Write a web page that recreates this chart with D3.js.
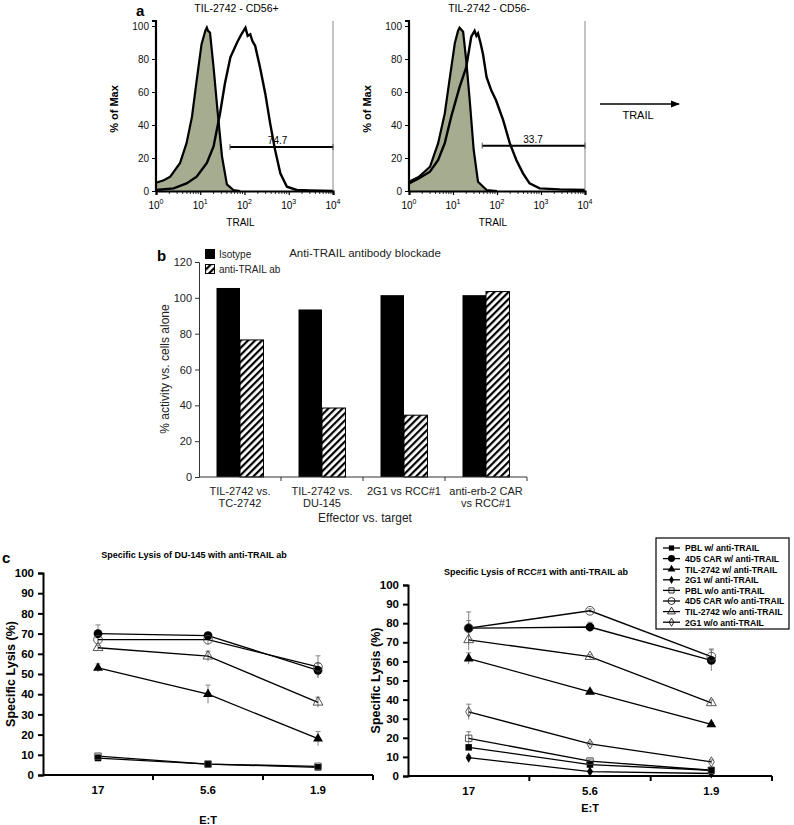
<!DOCTYPE html>
<html>
<head>
<meta charset="utf-8">
<script src="https://cdn.jsdelivr.net/npm/d3@7"></script>
<style>
  body { margin: 0; background: #fff; }
  svg { font-family: Arial, "Liberation Sans", sans-serif; }
</style>
</head>
<body>
<div id="fig"></div>
<script>
// ---- panel a: TRAIL histograms (intensity, % of max)
var isoPos = [[1,5],[1.5,6.5],[2.1,8.7],[3.5,17],[4.9,29],[6.5,45],[8.3,67],[10.7,89],[13,97],[14.1,99],[15,97],[16.6,96],[20,75],[24.5,49],[31,21],[40,4],[56,0.6],[80,0]];
var trailPos = [[1,0.6],[2.5,1.6],[4.9,4.6],[8.3,8.7],[14.1,17],[20,27],[28,47],[36,65],[48,81],[68,90],[85,95],[105,99],[118,94],[135,95],[150,91],[174,88],[224,75],[295,59],[380,41],[490,25],[645,10.7],[910,2.6],[1510,0.6],[3000,0.3],[10000,0]];
var isoNeg = [[1,5.6],[1.7,8.7],[3,14.7],[4.6,29],[6.5,47],[8.3,67],[11,89.5],[13,97],[14.1,99],[17,96.5],[20,79],[24,55],[29.5,25],[37,5.6],[58,0.6],[100,0]];
var trailNeg = [[1,4.6],[1.7,7.7],[3,11.7],[4.6,18.8],[6.5,29],[9.1,45],[14.1,63],[20,75],[26,93.5],[31,97],[34,94],[37,95.5],[42,90],[48,83],[58,69],[74,61],[95,55],[138,43],[195,29],[275,18.8],[390,10.7],[550,4.6],[930,1.6],[2630,1],[10000,0.6]];
var histTitles = ["TIL-2742 - CD56+", "TIL-2742 - CD56-"];
var gatePct = ["74.7", "33.7"];
var gateFrom = [47, 46];
var gateY = [26.7, 27.5];

// ---- panel b: antibody blockade
var bCats = [["TIL-2742 vs.", "TC-2742"], ["TIL-2742 vs.", "DU-145"], ["2G1 vs RCC#1", ""], ["anti-erb-2 CAR", "vs RCC#1"]];
var isotype = [105.5, 93.5, 101.5, 101.5];
var antiTrail = [76.5, 38.5, 34.5, 103.5];

// ---- panel c: specific lysis
var etRatios = ["17", "5.6", "1.9"];
var seriesNames = ["PBL w/ anti-TRAIL", "4D5 CAR w/ anti-TRAIL", "TIL-2742 w/ anti-TRAIL", "2G1 w/ anti-TRAIL",
  "PBL w/o anti-TRAIL", "4D5 CAR w/o anti-TRAIL", "TIL-2742 w/o anti-TRAIL", "2G1 w/o anti-TRAIL"];
var seriesShape = ["square", "circle", "triangle", "diamond", "square", "circle", "triangle", "diamond"];
var seriesFilled = [true, true, true, true, false, false, false, false];
var du145 = [[8.4,5.4,3.8], [70,69,51.8], [53,40,18], null, [9.3,5.4,4.3], [67,67,53.5], [63,58.8,36], null];
var du145Err = [[1.5,0.5,0.5], [4.3,1,3.5], [2,4.5,3.5], null, [1,0.5,0.8], [1,2.5,5.5], [1,2.5,2.5], null];
var rcc1 = [[15,6,3], [77.4,78,60.5], [61.5,44,27], [9.6,2.3,1.3], [19.7,7.8,3], [77.4,86.5,62.5], [71.3,62.5,38.3], [33.6,16.8,7.4]];
var rcc1Err = [[1,1,0.5], [4,2.5,5.5], [3,1,1], [1,0.5,0.5], [3.5,1,0.5], [8.5,1,4], [5.5,1,1.5], [4,1,1]];

var svg = d3.select("#fig").append("svg").attr("width", 794).attr("height", 825);
svg.append("rect").attr("width", 794).attr("height", 825).attr("fill", "#fff");

var defs = svg.append("defs");
var pat = defs.append("pattern").attr("id", "hatch").attr("patternUnits", "userSpaceOnUse")
  .attr("width", 5).attr("height", 5).attr("patternTransform", "rotate(45)");
pat.append("rect").attr("width", 5).attr("height", 5).attr("fill", "#fff");
pat.append("rect").attr("width", 2.2).attr("height", 5).attr("fill", "#000");

// ================= panel a
svg.append("text").attr("x", 136).attr("y", 16).attr("font-weight", "bold").attr("font-size", 15).text("a");

function histogram(left, right, iso, trail, idx){
  var x = d3.scaleLog().domain([1, 10000]).range([left, right]);
  var y = d3.scaleLinear().domain([0, 100]).range([191, 26]);
  var g = svg.append("g");
  var area = d3.area().x(function(d){ return x(d[0]); }).y0(y(0)).y1(function(d){ return y(d[1]); });
  var line = d3.line().x(function(d){ return x(d[0]); }).y(function(d){ return y(d[1]); });
  g.append("path").datum(iso).attr("d", area).attr("fill", "#a5ac8f");
  g.append("path").datum(iso).attr("d", line).attr("fill", "none").attr("stroke", "#000").attr("stroke-width", 2.2);
  g.append("path").datum(trail).attr("d", line).attr("fill", "none").attr("stroke", "#000").attr("stroke-width", 2.4);
  // frame
  g.append("line").attr("x1", right).attr("x2", right).attr("y1", 21).attr("y2", 191).attr("stroke", "#888").attr("stroke-width", 1);
  var ya = g.append("g").attr("transform", "translate(" + left + ",0)")
    .call(d3.axisLeft(y).tickValues([0,20,40,60,80,100]).tickSize(4));
  ya.select(".domain").attr("d", "M-4,21H0V191").attr("stroke-width", 2.2);
  ya.selectAll("text").attr("font-size", 10).attr("fill", "#111");
  var xa = g.append("g").attr("transform", "translate(0,191)")
    .call(d3.axisBottom(x).tickValues([1,10,100,1000,10000]).tickSize(4).tickFormat(""));
  xa.select(".domain").attr("stroke-width", 2.2);
  xa.selectAll(".tick line").attr("stroke-width", 1.2);
  g.selectAll(".minor").data(x.ticks().filter(function(v){ return [1,10,100,1000,10000].indexOf(v) < 0; }))
    .enter().append("line").attr("x1", function(d){ return x(d); }).attr("x2", function(d){ return x(d); })
    .attr("y1", 191).attr("y2", 194).attr("stroke", "#000").attr("stroke-width", 0.8);
  [0,1,2,3,4].forEach(function(e){
    var t = g.append("text").attr("x", x(Math.pow(10, e))).attr("y", 209).attr("text-anchor", "middle").attr("font-size", 10);
    t.append("tspan").text("10");
    t.append("tspan").attr("font-size", 7).attr("dy", -5).text(e);
  });
  g.append("text").attr("x", (left + right) / 2 - 4).attr("y", 226).attr("text-anchor", "middle").attr("font-size", 10).text("TRAIL");
  g.append("text").attr("x", (left + right) / 2 - 8).attr("y", 12).attr("text-anchor", "middle").attr("font-size", 10.5).text(histTitles[idx]);
  g.append("text").attr("transform", "translate(" + (left - 38) + ",109) rotate(-90)").attr("text-anchor", "middle")
    .attr("font-size", 11).attr("font-weight", "bold").text("% of Max");
  // gate
  var gy = y(gateY[idx]);
  g.append("line").attr("x1", x(gateFrom[idx])).attr("x2", x(10000)).attr("y1", gy).attr("y2", gy).attr("stroke", "#000").attr("stroke-width", 2);
  [gateFrom[idx], 10000].forEach(function(v){
    g.append("line").attr("x1", x(v)).attr("x2", x(v)).attr("y1", gy - 3).attr("y2", gy + 3).attr("stroke", "#555").attr("stroke-width", 1);
  });
  g.append("text").attr("x", x(idx ? 660 : 560)).attr("y", gy - 3).attr("text-anchor", "middle").attr("font-size", 10).text(gatePct[idx]);
}
histogram(156, 333, isoPos, trailPos, 0);
histogram(409, 585, isoNeg, trailNeg, 1);

// TRAIL arrow
defs.append("marker").attr("id", "arrow").attr("viewBox", "0 0 10 10").attr("refX", 9).attr("refY", 5)
  .attr("markerWidth", 7).attr("markerHeight", 7).attr("orient", "auto")
  .append("path").attr("d", "M0,1L10,5L0,9z").attr("fill", "#000");
svg.append("line").attr("x1", 600).attr("x2", 679).attr("y1", 104).attr("y2", 104).attr("stroke", "#000")
  .attr("stroke-width", 1.3).attr("marker-end", "url(#arrow)");
svg.append("text").attr("x", 638).attr("y", 119).attr("text-anchor", "middle").attr("font-size", 11).text("TRAIL");

// ================= panel b
svg.append("text").attr("x", 157).attr("y", 261).attr("font-weight", "bold").attr("font-size", 15).text("b");
var bx = d3.scaleBand().domain(d3.range(bCats.length)).range([199, 527]);
var by = d3.scaleLinear().domain([0, 120]).range([477, 262]);
var bw = 23.5;
var bg = svg.append("g");
bg.selectAll(".iso").data(isotype).enter().append("rect")
  .attr("x", function(d, i){ return bx(i) + bx.bandwidth() / 2 - bw; }).attr("width", bw)
  .attr("y", function(d){ return by(d); }).attr("height", function(d){ return by(0) - by(d); })
  .attr("fill", "#000");
bg.selectAll(".anti").data(antiTrail).enter().append("rect")
  .attr("x", function(d, i){ return bx(i) + bx.bandwidth() / 2; }).attr("width", bw)
  .attr("y", function(d){ return by(d); }).attr("height", function(d){ return by(0) - by(d); })
  .attr("fill", "url(#hatch)").attr("stroke", "#000").attr("stroke-width", 1);
var bya = bg.append("g").attr("transform", "translate(199,0)").call(d3.axisLeft(by).ticks(6).tickSize(4));
bya.selectAll("text").attr("font-size", 11).attr("fill", "#222");
bya.selectAll("line, path").attr("stroke", "#333");
var bxa = bg.append("g").attr("transform", "translate(0,477)");
bxa.append("line").attr("x1", 199).attr("x2", 527).attr("stroke", "#333");
bxa.selectAll(".tk").data(d3.range(1, bCats.length + 1)).enter().append("line")
  .attr("x1", function(i){ return 199 + i * bx.step(); }).attr("x2", function(i){ return 199 + i * bx.step(); })
  .attr("y1", 0).attr("y2", 4).attr("stroke", "#333");
bCats.forEach(function(c, i){
  var t = bxa.append("text").attr("text-anchor", "middle").attr("font-size", 11).attr("fill", "#222");
  t.append("tspan").attr("x", bx(i) + bx.bandwidth() / 2).attr("y", 18).text(c[0]);
  t.append("tspan").attr("x", bx(i) + bx.bandwidth() / 2).attr("y", 30).text(c[1]);
});
bg.append("text").attr("x", 365).attr("y", 522).attr("text-anchor", "middle").attr("font-size", 12).attr("fill", "#222").text("Effector vs. target");
bg.append("text").attr("transform", "translate(169,369) rotate(-90)").attr("text-anchor", "middle").attr("font-size", 12).attr("fill", "#222").text("% activity vs. cells alone");
bg.append("text").attr("x", 365).attr("y", 257).attr("text-anchor", "middle").attr("font-size", 11.5).attr("fill", "#222").text("Anti-TRAIL antibody blockade");
bg.append("rect").attr("x", 205).attr("y", 249).attr("width", 10).attr("height", 10).attr("fill", "#000");
bg.append("rect").attr("x", 205.5).attr("y", 264.5).attr("width", 9).attr("height", 9).attr("fill", "url(#hatch)").attr("stroke", "#000");
bg.append("text").attr("x", 219).attr("y", 258).attr("font-size", 10).attr("fill", "#222").text("Isotype");
bg.append("text").attr("x", 219).attr("y", 273).attr("font-size", 10).attr("fill", "#222").text("anti-TRAIL ab");

// ================= panel c
svg.append("text").attr("x", 2).attr("y", 563).attr("font-weight", "bold").attr("font-size", 15).text("c");

function symbolFor(i){
  var types = { square: d3.symbolSquare, circle: d3.symbolCircle, triangle: d3.symbolTriangle, diamond: d3.symbolDiamond };
  var sizes = { square: 42, circle: 60, triangle: 42, diamond: 30 };
  return d3.symbol().type(types[seriesShape[i]]).size(sizes[seriesShape[i]])();
}

function lysisChart(left, right, y0, y100, data, err, title, titleX, titleY, etY){
  var x = d3.scaleBand().domain(etRatios).range([left, right]);
  var y = d3.scaleLinear().domain([0, 100]).range([y0, y100]);
  var g = svg.append("g");
  var cx = function(i){ return x(etRatios[i]) + x.bandwidth() / 2; };
  var line = d3.line().x(function(d, i){ return cx(i); }).y(function(d){ return y(d); });
  data.forEach(function(s, k){
    if (!s) return;
    g.append("g").selectAll("line").data(s).enter().append("line")
      .attr("x1", function(d, i){ return cx(i); }).attr("x2", function(d, i){ return cx(i); })
      .attr("y1", function(d, i){ return y(d + err[k][i]); }).attr("y2", function(d, i){ return y(d - err[k][i]); })
      .attr("stroke", "#777").attr("stroke-width", 0.9);
    g.append("g").selectAll("line").data(s).enter().append("line")
      .attr("x1", function(d, i){ return cx(i) - 2.5; }).attr("x2", function(d, i){ return cx(i) + 2.5; })
      .attr("y1", function(d, i){ return y(d + err[k][i]); }).attr("y2", function(d, i){ return y(d + err[k][i]); })
      .attr("stroke", "#777").attr("stroke-width", 0.9);
  });
  data.forEach(function(s, k){
    if (!s) return;
    g.append("path").datum(s).attr("d", line).attr("fill", "none").attr("stroke", "#000").attr("stroke-width", 1.3);
  });
  data.forEach(function(s, k){
    if (!s) return;
    g.append("g").selectAll("path").data(s).enter().append("path")
      .attr("d", symbolFor(k))
      .attr("transform", function(d, i){ return "translate(" + cx(i) + "," + y(d) + ")"; })
      .attr("fill", seriesFilled[k] ? "#000" : "none").attr("stroke", seriesFilled[k] ? "none" : "#444").attr("stroke-width", 0.9);
  });
  var ya = g.append("g").attr("transform", "translate(" + left + ",0)").call(d3.axisLeft(y).ticks(10).tickSize(5));
  ya.select(".domain").attr("stroke-width", 2);
  ya.selectAll(".tick line").attr("stroke-width", 2);
  ya.selectAll("text").attr("font-size", 11.5).attr("font-weight", "bold").attr("dx", -1);
  var xa = g.append("g").attr("transform", "translate(0," + y0 + ")");
  xa.append("line").attr("x1", left).attr("x2", right).attr("stroke", "#000").attr("stroke-width", 2);
  xa.selectAll(".tk").data(d3.range(1, etRatios.length + 1)).enter().append("line")
    .attr("x1", function(i){ return left + i * x.step(); }).attr("x2", function(i){ return left + i * x.step(); })
    .attr("y1", 0).attr("y2", 5).attr("stroke", "#000").attr("stroke-width", 2);
  xa.selectAll(".lb").data(etRatios).enter().append("text")
    .attr("x", function(d){ return x(d) + x.bandwidth() / 2; }).attr("y", 19)
    .attr("text-anchor", "middle").attr("font-size", 11.5).attr("font-weight", "bold").text(function(d){ return d; });
  g.append("text").attr("x", x(etRatios[1]) + x.bandwidth() / 2).attr("y", etY).attr("text-anchor", "middle")
    .attr("font-size", 11).attr("font-weight", "bold").text("E:T");
  g.append("text").attr("x", titleX).attr("y", titleY).attr("text-anchor", "middle")
    .attr("font-size", 9).attr("font-weight", "bold").text(title);
  g.append("text").attr("transform", "translate(" + (left - 28) + "," + (y0 + y100) / 2 + ") rotate(-90)")
    .attr("text-anchor", "middle").attr("font-size", 12.5).attr("font-weight", "bold").text("Specific Lysis (%)");
}
lysisChart(43, 373, 775, 573, du145, du145Err, "Specific Lysis of DU-145 with anti-TRAIL ab", 194, 558, 824);
lysisChart(408, 772, 776, 585, rcc1, rcc1Err, "Specific Lysis of RCC#1 with anti-TRAIL ab", 536, 575, 812);

// legend
var lg = svg.append("g").attr("transform", "translate(656,538)");
lg.append("rect").attr("width", 133).attr("height", 91).attr("fill", "#fff").attr("stroke", "#000").attr("stroke-width", 1.2);
seriesNames.forEach(function(n, i){
  var ly = 10 + i * 10.6;
  lg.append("line").attr("x1", 7).attr("x2", 24).attr("y1", ly).attr("y2", ly).attr("stroke", "#000").attr("stroke-width", 1.3);
  lg.append("path").attr("d", symbolFor(i)).attr("transform", "translate(15.5," + ly + ") scale(0.8)")
    .attr("fill", seriesFilled[i] ? "#000" : "none").attr("stroke", seriesFilled[i] ? "none" : "#000");
  lg.append("text").attr("x", 29).attr("y", ly + 3.3).attr("font-size", 8.6).attr("font-weight", "bold").text(n);
});
</script>
</body>
</html>
